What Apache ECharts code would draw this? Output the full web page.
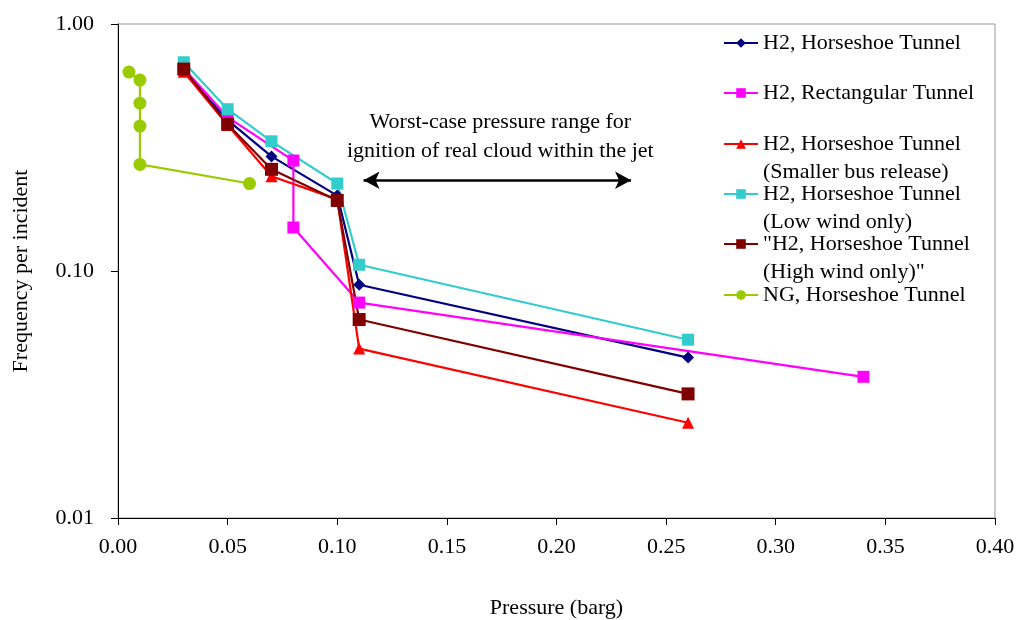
<!DOCTYPE html>
<html>
<head>
<meta charset="utf-8">
<script src="https://cdn.jsdelivr.net/npm/echarts@6/dist/echarts.min.js"></script>
<style>html,body{margin:0;padding:0;background:#fff}#c{width:1019px;height:620px}</style>
</head>
<body>
<div id="c"></div>
<script>
// ---- data ----
const xTicks = [0, 0.05, 0.10, 0.15, 0.20, 0.25, 0.30, 0.35, 0.40];
const yTicks = [0.01, 0.10, 1.00];

const names = [
  'H2, Horseshoe Tunnel',
  'H2, Rectangular Tunnel',
  'H2, Horseshoe Tunnel\n(Smaller bus release)',
  'H2, Horseshoe Tunnel\n(Low wind only)',
  '"H2, Horseshoe Tunnel\n(High wind only)"',
  'NG, Horseshoe Tunnel'
];

const xHorseshoe = [0.03, 0.05, 0.07, 0.10, 0.11, 0.26];
const yHorseshoe = [0.645, 0.408, 0.291, 0.202, 0.088, 0.0446];

const xRect = [0.03, 0.05, 0.08, 0.08, 0.11, 0.34];
const yRect = [0.66, 0.42, 0.28, 0.150, 0.0745, 0.0373];

const xSmallBus = [0.03, 0.05, 0.07, 0.10, 0.11, 0.26];
const ySmallBus = [0.64, 0.39, 0.242, 0.195, 0.0485, 0.0243];

const xLowWind = [0.03, 0.05, 0.07, 0.10, 0.11, 0.26];
const yLowWind = [0.70, 0.452, 0.335, 0.226, 0.106, 0.0527];

const xHighWind = [0.03, 0.05, 0.07, 0.10, 0.11, 0.26];
const yHighWind = [0.657, 0.393, 0.258, 0.193, 0.0636, 0.0318];

const xNG = [0.005, 0.01, 0.01, 0.01, 0.01, 0.06];
const yNG = [0.639, 0.593, 0.478, 0.386, 0.270, 0.226];

const arrowX = [0.112, 0.234];
const arrowY = 0.233;
const annotation = ['Worst-case pressure range for', 'ignition of real cloud within the jet'];

// ---- chart ----
const FONT = '"Liberation Serif", "Times New Roman", serif';
const FS = 22;
const zip = (xs, ys) => xs.map((x, i) => [x, ys[i]]);

const styles = [
  {color: '#000080', symbol: 'diamond', size: 12},
  {color: '#FF00FF', symbol: 'rect', size: 12},
  {color: '#FF0000', symbol: 'triangle', size: 12},
  {color: '#33CCCC', symbol: 'rect', size: 12},
  {color: '#800000', symbol: 'rect', size: 13},
  {color: '#99CC00', symbol: 'circle', size: 13}
];
const dataSets = [
  zip(xHorseshoe, yHorseshoe),
  zip(xRect, yRect),
  zip(xSmallBus, ySmallBus),
  zip(xLowWind, yLowWind),
  zip(xHighWind, yHighWind),
  zip(xNG, yNG)
];

const series = names.map((n, i) => ({
  name: n,
  type: 'line',
  data: dataSets[i],
  symbol: styles[i].symbol,
  symbolSize: styles[i].size,
  showAllSymbol: true,
  lineStyle: {color: styles[i].color, width: 2.2},
  itemStyle: {color: styles[i].color},
  emphasis: {disabled: true},
  animation: false
}));

series.push({
  type: 'line',
  data: [],
  silent: true,
  animation: false,
  markLine: {
    silent: true,
    animation: false,
    symbol: ['arrow', 'arrow'],
    symbolSize: [13, 16],
    label: {show: false},
    lineStyle: {color: '#000', width: 2.5, type: 'solid'},
    data: [[{coord: [arrowX[0], arrowY]}, {coord: [arrowX[1], arrowY]}]]
  }
});

const legendY = [43, 93, 144, 194, 244, 295];
const LH = 28;
const legends = names.map((n, i) => {
  const two = n.indexOf('\n') >= 0;
  return {
    data: [n],
    orient: 'vertical',
    left: 723,
    top: two ? legendY[i] - LH * 1.5 : legendY[i] - LH / 2,
    padding: 0,
    itemWidth: 34,
    itemHeight: 12,
    selectedMode: false,
    formatter: nm => (nm.indexOf('\n') >= 0 ? '\u00a0\n' + nm : nm),
    textStyle: {
      fontFamily: FONT, fontSize: FS, color: '#000',
      lineHeight: LH
    }
  };
});

const chart = echarts.init(document.getElementById('c'), null, {renderer: 'canvas'});
chart.setOption({
  backgroundColor: '#fff',
  animation: false,
  grid: {left: 118, right: 24, top: 24, bottom: 102, containLabel: false, outerBoundsMode: 'none',
    show: true, borderColor: '#999', borderWidth: 1, backgroundColor: 'transparent'},
  legend: legends,
  xAxis: {
    type: 'value', min: 0, max: 0.4, interval: 0.05,
    name: 'Pressure (barg)', nameLocation: 'middle', nameGap: 79,
    nameTextStyle: {fontFamily: FONT, fontSize: FS, color: '#000'},
    axisLine: {show: true, onZero: false, lineStyle: {color: '#000', width: 1}},
    axisTick: {show: true, length: 7, lineStyle: {color: '#000'}},
    axisLabel: {fontFamily: FONT, fontSize: FS, color: '#000', margin: 18,
      formatter: v => v.toFixed(2)},
    splitLine: {show: false}
  },
  yAxis: {
    type: 'log', logBase: 10, min: yTicks[0], max: yTicks[yTicks.length - 1],
    name: 'Frequency per incident', nameLocation: 'middle', nameGap: 86, nameRotate: 90,
    nameTextStyle: {fontFamily: FONT, fontSize: FS, color: '#000'},
    axisLine: {show: true, onZero: false, lineStyle: {color: '#000', width: 1}},
    axisTick: {show: true, length: 7, lineStyle: {color: '#000'}},
    minorTick: {show: false},
    axisLabel: {fontFamily: FONT, fontSize: FS, color: '#000', margin: 24,
      formatter: v => Number(v).toFixed(2)},
    splitLine: {show: false}
  },
  series: series
});

// annotation text, centred over the arrow
const mid = chart.convertToPixel({xAxisIndex: 0, yAxisIndex: 0}, [(arrowX[0] + arrowX[1]) / 2, arrowY]);
chart.setOption({
  graphic: [
    {type: 'text', x: mid[0] + 3, y: mid[1] - 58, silent: true,
      style: {text: annotation[0], font: FS + 'px ' + FONT, fill: '#000', align: 'center', verticalAlign: 'middle'}},
    {type: 'text', x: mid[0] + 3, y: mid[1] - 29, silent: true,
      style: {text: annotation[1], font: FS + 'px ' + FONT, fill: '#000', align: 'center', verticalAlign: 'middle'}}
  ]
});
</script>
</body>
</html>
